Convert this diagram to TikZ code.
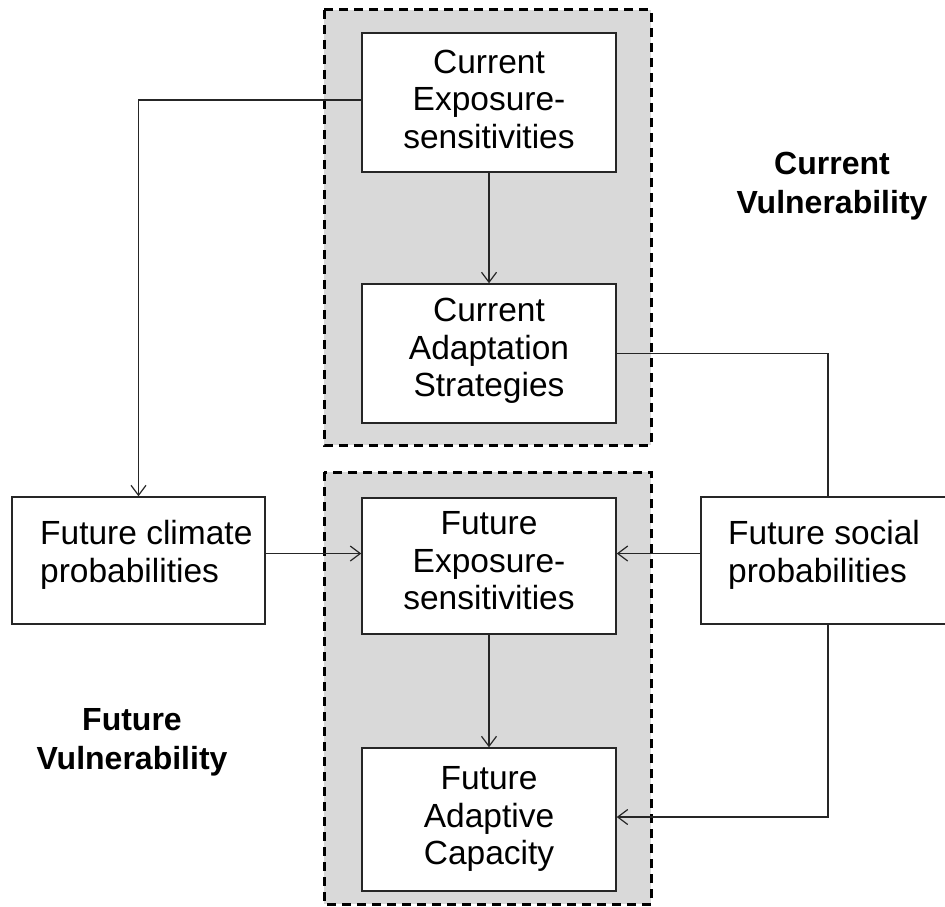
\documentclass[tikz,border=0pt]{standalone}
\usepackage{fontspec}
\setmainfont{Liberation Sans}
\usetikzlibrary{arrows.meta}
\definecolor{regiongray}{HTML}{D9D9D9}
\definecolor{linegray}{HTML}{262626}
\begin{document}
\begin{tikzpicture}[x=1pt,y=-1pt,
  region/.style={draw=black, fill=regiongray, line width=3pt, dash pattern=on 9pt off 6pt},
  box/.style={draw=linegray, fill=white, line width=1.5pt, inner sep=0pt, minimum width=254, minimum height=139},
  txt/.style={font=\fontsize{33.5}{37.5}\selectfont, align=center, inner sep=0pt},
  sidetxt/.style={font=\fontsize{33.5}{37.5}\selectfont, align=left, inner sep=0pt, anchor=west},
  head/.style={font=\bfseries\fontsize{32}{39}\selectfont, align=center, inner sep=0pt},
  conn/.style={draw=linegray, line width=1.2pt},
  arr/.style={conn, -{Straight Barb[length=10pt,width=15pt,line width=1.2pt]}}]
\useasboundingbox (0,0) rectangle (945,907);

% shaded, dashed regions
\path[region] (324,10) rectangle (651,445);
\path[region] (324,472) rectangle (651,904);

% current vulnerability boxes
\node[box] (ces) at (489,102.5) {};
\node[txt] (cestxt) at (489,99) {Current\\Exposure-\\sensitivities};
\node[box] (cas) at (489,353.5) {};
\node[txt] (castxt) at (489,351) {Current\\Adaptation\\Strategies};

% future vulnerability boxes
\node[box, minimum height=136] (fes) at (489,566) {};
\node[txt] (festxt) at (489,561) {Future\\Exposure-\\sensitivities};
\node[box, minimum height=143] (fad) at (489,819.5) {};
\node[txt] (fadtxt) at (489,819) {Future\\Adaptive\\Capacity};

% scenario boxes at the sides
\node[box, minimum width=253, minimum height=127] (fcl) at (138.5,560.5) {};
\node[sidetxt] (fcltxt) at (40,555) {Future climate\\probabilities};
\node[box, minimum width=254, minimum height=127] (fsp) at (828,560.5) {};
\node[sidetxt] (fsptxt) at (728,555) {Future social\\probabilities};

% region headings
\node[head] (curhead) at (832,186) {Current\\Vulnerability};
\node[head] (futhead) at (132,742) {Future\\Vulnerability};

% connector anchor points
\coordinate (cesout) at ([yshift=2.5pt]ces.west);
\coordinate (fclout) at ([yshift=7pt]fcl.east);
\coordinate (fspout) at ([yshift=7pt]fsp.west);
\coordinate (fadin) at ([yshift=2.5pt]fad.east);

% connectors
\draw[arr] (cesout) -| (fcl.north);
\draw[arr] (ces.south) -- (cas.north);
\draw[conn] (cas.east) -| (fsp.north);
\draw[arr] (fclout) -- (fes.west |- fclout);
\draw[arr] (fspout) -- (fes.east |- fspout);
\draw[arr] (fes.south) -- (fad.north);
\draw[arr] (fsp.south) |- (fadin);
\end{tikzpicture}
\end{document}
